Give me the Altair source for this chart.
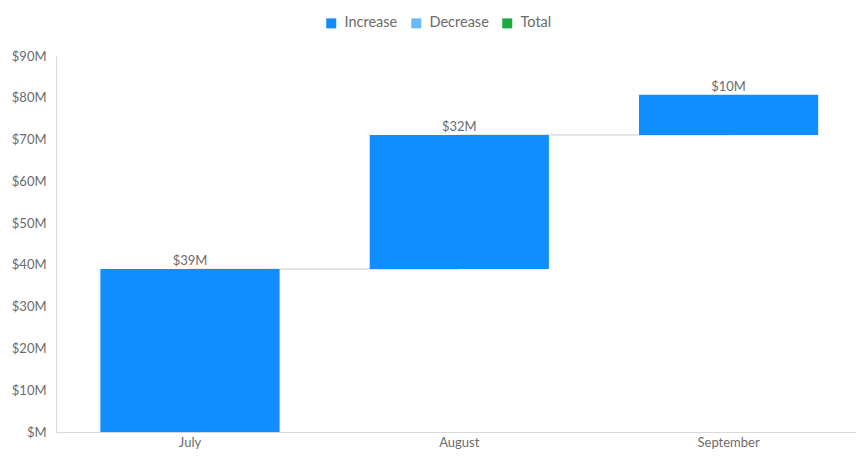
import altair as alt
import pandas as pd

months = ["July", "August", "September"]
deltas = [39.0, 32.1, 9.6]          # $M
kinds = ["Increase", "Increase", "Increase"]
legend_items = ["Increase", "Decrease", "Total"]
legend_colors = ["#118DFF", "#6AB9F7", "#1AAB40"]
y_ticks = [0, 10, 20, 30, 40, 50, 60, 70, 80, 90]

rows = []
conn = []
cum = 0.0
for i, (m, d, k) in enumerate(zip(months, deltas, kinds)):
    start, end = cum, cum + d
    rows.append({"month": m, "start": start, "end": end, "kind": k,
                 "label": f"${round(d):.0f}M"})
    if i + 1 < len(months):
        conn.append({"month": m, "level": end, "seg": i})
        conn.append({"month": months[i + 1], "level": end, "seg": i})
    cum = end
df = pd.DataFrame(rows)
df_conn = pd.DataFrame(conn)

FONT = "Lato"
GRAY = "#6b6b6b"

xscale = alt.Scale(domain=months, paddingInner=0.3346, paddingOuter=0.1526, align=0.54)
yscale = alt.Scale(domain=[0, 90], nice=False)

connectors = alt.Chart(df_conn).mark_line(color="#cfcfcf", strokeWidth=1).encode(
    x=alt.X("month:N", scale=xscale, sort=months),
    y=alt.Y("level:Q", scale=yscale),
    detail="seg:N",
)

bars = alt.Chart(df).mark_bar().encode(
    x=alt.X("month:N", scale=xscale, sort=months,
            axis=alt.Axis(title=None, labelAngle=0, labelAlign="center", ticks=False,
                          domainColor="#d9d9d9", labelColor=GRAY, labelFontSize=13,
                          labelFont=FONT, labelPadding=10)),
    y=alt.Y("start:Q", scale=yscale,
            axis=alt.Axis(title=None, values=y_ticks, grid=False, ticks=False,
                          domainColor="#d9d9d9", labelColor=GRAY, labelFontSize=13,
                          labelFont=FONT, labelPadding=10,
                          labelExpr="'$' + (datum.value == 0 ? '' : datum.value) + 'M'")),
    y2="end:Q",
    color=alt.Color("kind:N",
                    scale=alt.Scale(domain=legend_items, range=legend_colors),
                    legend=alt.Legend(title=None, orient="none", direction="horizontal",
                                      legendX=268, legendY=-40, symbolType="square",
                                      symbolSize=100, symbolStrokeWidth=0,
                                      labelFont=FONT, labelFontSize=14.5, labelColor=GRAY,
                                      columnPadding=11, labelOffset=6)),
)

labels = alt.Chart(df).mark_text(baseline="bottom", dy=-1, font=FONT, fontSize=13, color=GRAY).encode(
    x=alt.X("month:N", scale=xscale, sort=months),
    y=alt.Y("end:Q", scale=yscale),
    text="label:N",
)

chart = alt.layer(connectors, bars, labels).properties(
    width=800, height=376,
    padding={"left": 48, "top": 48, "right": 0, "bottom": 18},
    autosize=alt.AutoSizeParams(type="none"),
    background="white",
).configure_view(stroke=None)

chart.save("out.html", embed_options={"renderer": "svg", "actions": False})
